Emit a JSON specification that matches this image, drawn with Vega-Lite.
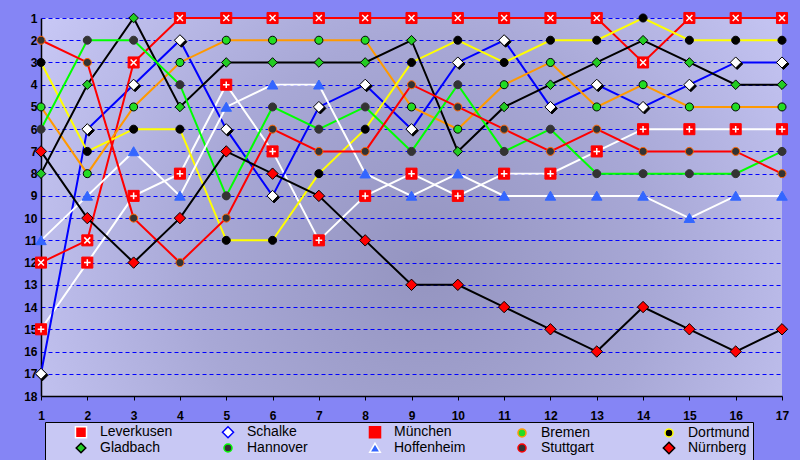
{
  "$schema": "https://vega.github.io/schema/vega-lite/v6.json",
  "width": 741,
  "height": 378,
  "autosize": {"type": "none"},
  "padding": {"left": 41, "top": 18, "right": 18, "bottom": 64},
  "background": "#8585f5",
  "config": {
    "view": {
      "stroke": null,
      "fill": {"gradient": "radial", "x1": 0.52, "y1": 0.58, "r1": 0, "x2": 0.52, "y2": 0.58, "r2": 0.62,
        "stops": [{"offset": 0, "color": "#9494c0"}, {"offset": 0.5, "color": "#a8a8d6"}, {"offset": 1, "color": "#c8c8f6"}]}
    }
  },
  "data": {"values": [
    {"team":"Leverkusen","tag":1,"platz":15},{"team":"Leverkusen","tag":2,"platz":12},{"team":"Leverkusen","tag":3,"platz":9},{"team":"Leverkusen","tag":4,"platz":8},{"team":"Leverkusen","tag":5,"platz":4},{"team":"Leverkusen","tag":6,"platz":7},{"team":"Leverkusen","tag":7,"platz":11},{"team":"Leverkusen","tag":8,"platz":9},{"team":"Leverkusen","tag":9,"platz":8},{"team":"Leverkusen","tag":10,"platz":9},{"team":"Leverkusen","tag":11,"platz":8},{"team":"Leverkusen","tag":12,"platz":8},{"team":"Leverkusen","tag":13,"platz":7},{"team":"Leverkusen","tag":14,"platz":6},{"team":"Leverkusen","tag":15,"platz":6},{"team":"Leverkusen","tag":16,"platz":6},{"team":"Leverkusen","tag":17,"platz":6},
    {"team":"Schalke","tag":1,"platz":17},{"team":"Schalke","tag":2,"platz":6},{"team":"Schalke","tag":3,"platz":4},{"team":"Schalke","tag":4,"platz":2},{"team":"Schalke","tag":5,"platz":6},{"team":"Schalke","tag":6,"platz":9},{"team":"Schalke","tag":7,"platz":5},{"team":"Schalke","tag":8,"platz":4},{"team":"Schalke","tag":9,"platz":6},{"team":"Schalke","tag":10,"platz":3},{"team":"Schalke","tag":11,"platz":2},{"team":"Schalke","tag":12,"platz":5},{"team":"Schalke","tag":13,"platz":4},{"team":"Schalke","tag":14,"platz":5},{"team":"Schalke","tag":15,"platz":4},{"team":"Schalke","tag":16,"platz":3},{"team":"Schalke","tag":17,"platz":3},
    {"team":"München","tag":1,"platz":12},{"team":"München","tag":2,"platz":11},{"team":"München","tag":3,"platz":3},{"team":"München","tag":4,"platz":1},{"team":"München","tag":5,"platz":1},{"team":"München","tag":6,"platz":1},{"team":"München","tag":7,"platz":1},{"team":"München","tag":8,"platz":1},{"team":"München","tag":9,"platz":1},{"team":"München","tag":10,"platz":1},{"team":"München","tag":11,"platz":1},{"team":"München","tag":12,"platz":1},{"team":"München","tag":13,"platz":1},{"team":"München","tag":14,"platz":3},{"team":"München","tag":15,"platz":1},{"team":"München","tag":16,"platz":1},{"team":"München","tag":17,"platz":1},
    {"team":"Bremen","tag":1,"platz":5},{"team":"Bremen","tag":2,"platz":8},{"team":"Bremen","tag":3,"platz":5},{"team":"Bremen","tag":4,"platz":3},{"team":"Bremen","tag":5,"platz":2},{"team":"Bremen","tag":6,"platz":2},{"team":"Bremen","tag":7,"platz":2},{"team":"Bremen","tag":8,"platz":2},{"team":"Bremen","tag":9,"platz":5},{"team":"Bremen","tag":10,"platz":6},{"team":"Bremen","tag":11,"platz":4},{"team":"Bremen","tag":12,"platz":3},{"team":"Bremen","tag":13,"platz":5},{"team":"Bremen","tag":14,"platz":4},{"team":"Bremen","tag":15,"platz":5},{"team":"Bremen","tag":16,"platz":5},{"team":"Bremen","tag":17,"platz":5},
    {"team":"Dortmund","tag":1,"platz":3},{"team":"Dortmund","tag":2,"platz":7},{"team":"Dortmund","tag":3,"platz":6},{"team":"Dortmund","tag":4,"platz":6},{"team":"Dortmund","tag":5,"platz":11},{"team":"Dortmund","tag":6,"platz":11},{"team":"Dortmund","tag":7,"platz":8},{"team":"Dortmund","tag":8,"platz":6},{"team":"Dortmund","tag":9,"platz":3},{"team":"Dortmund","tag":10,"platz":2},{"team":"Dortmund","tag":11,"platz":3},{"team":"Dortmund","tag":12,"platz":2},{"team":"Dortmund","tag":13,"platz":2},{"team":"Dortmund","tag":14,"platz":1},{"team":"Dortmund","tag":15,"platz":2},{"team":"Dortmund","tag":16,"platz":2},{"team":"Dortmund","tag":17,"platz":2},
    {"team":"Gladbach","tag":1,"platz":8},{"team":"Gladbach","tag":2,"platz":4},{"team":"Gladbach","tag":3,"platz":1},{"team":"Gladbach","tag":4,"platz":5},{"team":"Gladbach","tag":5,"platz":3},{"team":"Gladbach","tag":6,"platz":3},{"team":"Gladbach","tag":7,"platz":3},{"team":"Gladbach","tag":8,"platz":3},{"team":"Gladbach","tag":9,"platz":2},{"team":"Gladbach","tag":10,"platz":7},{"team":"Gladbach","tag":11,"platz":5},{"team":"Gladbach","tag":12,"platz":4},{"team":"Gladbach","tag":13,"platz":3},{"team":"Gladbach","tag":14,"platz":2},{"team":"Gladbach","tag":15,"platz":3},{"team":"Gladbach","tag":16,"platz":4},{"team":"Gladbach","tag":17,"platz":4},
    {"team":"Hannover","tag":1,"platz":6},{"team":"Hannover","tag":2,"platz":2},{"team":"Hannover","tag":3,"platz":2},{"team":"Hannover","tag":4,"platz":4},{"team":"Hannover","tag":5,"platz":9},{"team":"Hannover","tag":6,"platz":5},{"team":"Hannover","tag":7,"platz":6},{"team":"Hannover","tag":8,"platz":5},{"team":"Hannover","tag":9,"platz":7},{"team":"Hannover","tag":10,"platz":4},{"team":"Hannover","tag":11,"platz":7},{"team":"Hannover","tag":12,"platz":6},{"team":"Hannover","tag":13,"platz":8},{"team":"Hannover","tag":14,"platz":8},{"team":"Hannover","tag":15,"platz":8},{"team":"Hannover","tag":16,"platz":8},{"team":"Hannover","tag":17,"platz":7},
    {"team":"Hoffenheim","tag":1,"platz":11},{"team":"Hoffenheim","tag":2,"platz":9},{"team":"Hoffenheim","tag":3,"platz":7},{"team":"Hoffenheim","tag":4,"platz":9},{"team":"Hoffenheim","tag":5,"platz":5},{"team":"Hoffenheim","tag":6,"platz":4},{"team":"Hoffenheim","tag":7,"platz":4},{"team":"Hoffenheim","tag":8,"platz":8},{"team":"Hoffenheim","tag":9,"platz":9},{"team":"Hoffenheim","tag":10,"platz":8},{"team":"Hoffenheim","tag":11,"platz":9},{"team":"Hoffenheim","tag":12,"platz":9},{"team":"Hoffenheim","tag":13,"platz":9},{"team":"Hoffenheim","tag":14,"platz":9},{"team":"Hoffenheim","tag":15,"platz":10},{"team":"Hoffenheim","tag":16,"platz":9},{"team":"Hoffenheim","tag":17,"platz":9},
    {"team":"Stuttgart","tag":1,"platz":2},{"team":"Stuttgart","tag":2,"platz":3},{"team":"Stuttgart","tag":3,"platz":10},{"team":"Stuttgart","tag":4,"platz":12},{"team":"Stuttgart","tag":5,"platz":10},{"team":"Stuttgart","tag":6,"platz":6},{"team":"Stuttgart","tag":7,"platz":7},{"team":"Stuttgart","tag":8,"platz":7},{"team":"Stuttgart","tag":9,"platz":4},{"team":"Stuttgart","tag":10,"platz":5},{"team":"Stuttgart","tag":11,"platz":6},{"team":"Stuttgart","tag":12,"platz":7},{"team":"Stuttgart","tag":13,"platz":6},{"team":"Stuttgart","tag":14,"platz":7},{"team":"Stuttgart","tag":15,"platz":7},{"team":"Stuttgart","tag":16,"platz":7},{"team":"Stuttgart","tag":17,"platz":8},
    {"team":"Nürnberg","tag":1,"platz":7},{"team":"Nürnberg","tag":2,"platz":10},{"team":"Nürnberg","tag":3,"platz":12},{"team":"Nürnberg","tag":4,"platz":10},{"team":"Nürnberg","tag":5,"platz":7},{"team":"Nürnberg","tag":6,"platz":8},{"team":"Nürnberg","tag":7,"platz":9},{"team":"Nürnberg","tag":8,"platz":11},{"team":"Nürnberg","tag":9,"platz":13},{"team":"Nürnberg","tag":10,"platz":13},{"team":"Nürnberg","tag":11,"platz":14},{"team":"Nürnberg","tag":12,"platz":15},{"team":"Nürnberg","tag":13,"platz":16},{"team":"Nürnberg","tag":14,"platz":14},{"team":"Nürnberg","tag":15,"platz":15},{"team":"Nürnberg","tag":16,"platz":16},{"team":"Nürnberg","tag":17,"platz":15}
  ]},
  "encoding": {
    "x": {"field": "tag", "type": "quantitative",
      "scale": {"domain": [1, 17], "nice": false, "zero": false},
      "axis": {"title": null, "values": [1,2,3,4,5,6,7,8,9,10,11,12,13,14,15,16,17], "format": "d",
        "labelFont": "Liberation Sans", "labelFontWeight": "bold", "labelFontSize": 12, "labelColor": "#000000",
        "labelFlush": false, "labelOverlap": false, "tickColor": "#000000", "tickSize": 4, "labelPadding": 10,
        "domainColor": "#000000", "domainWidth": 1.5, "grid": false}},
    "y": {"field": "platz", "type": "quantitative",
      "scale": {"domain": [1, 18], "reverse": true, "nice": false, "zero": false},
      "axis": {"title": null, "values": [1,2,3,4,5,6,7,8,9,10,11,12,13,14,15,16,17,18], "format": "d",
        "labelFont": "Liberation Sans", "labelFontWeight": "bold", "labelFontSize": 12, "labelColor": "#000000",
        "labelFlush": false, "labelOverlap": false, "ticks": false, "tickSize": 0, "labelPadding": 4,
        "domainColor": "#000000", "domainWidth": 1.5,
        "grid": true, "gridColor": "#0000ff", "gridDash": [4, 3], "gridWidth": 1, "gridOpacity": 1}}
  },
  "layer": [
    {
      "mark": {"type": "line", "strokeWidth": 2},
      "encoding": {
        "color": {"field": "team", "type": "nominal",
          "scale": {"domain": ["Leverkusen","Schalke","München","Bremen","Dortmund","Gladbach","Hannover","Hoffenheim","Stuttgart","Nürnberg"],
            "range": ["#ffffff","#0000ff","#ff0000","#ff9900","#ffff00","#000000","#00ff00","#ffffff","#ff0000","#000000"]}}
      }
    },
    {
      "transform": [{"filter": "datum.team === 'Schalke'"}],
      "mark": {"type": "point", "shape": "diamond", "filled": true, "fill": "#000000", "stroke": "#000000", "strokeWidth": 1, "size": 121, "xOffset": 1.5, "yOffset": 1.5, "opacity": 1}
    },
    {
      "mark": {"type": "point", "filled": true, "opacity": 1, "strokeWidth": 1, "size": 144},
      "encoding": {
        "shape": {"field": "team", "type": "nominal",
          "scale": {"domain": ["Leverkusen","Schalke","München","Bremen","Dortmund","Gladbach","Hannover","Hoffenheim","Stuttgart","Nürnberg"],
            "range": [
              "M-0.92,-0.92H0.92V0.92H-0.92Z",
              "M0,-0.92L0.92,0L0,0.92L-0.92,0Z",
              "M-0.92,-0.92H0.92V0.92H-0.92Z",
              "M-0.67,0A0.67,0.67,0,1,0,0.67,0A0.67,0.67,0,1,0,-0.67,0Z",
              "M-0.67,0A0.67,0.67,0,1,0,0.67,0A0.67,0.67,0,1,0,-0.67,0Z",
              "M0,-0.8L0.8,0L0,0.8L-0.8,0Z",
              "M-0.67,0A0.67,0.67,0,1,0,0.67,0A0.67,0.67,0,1,0,-0.67,0Z",
              "M0,-0.78L0.88,0.72L-0.88,0.72Z",
              "M-0.67,0A0.67,0.67,0,1,0,0.67,0A0.67,0.67,0,1,0,-0.67,0Z",
              "M0,-0.95L0.95,0L0,0.95L-0.95,0Z"
            ]},
          "legend": {
            "orient": "none", "legendX": 4, "legendY": 404,
            "columns": 5, "direction": "horizontal",
            "title": " ", "titleOrient": "left", "titlePadding": 26, "titleFontSize": 14,
            "symbolSize": 144, "symbolStrokeWidth": 1.5,
            "labelFont": "Liberation Sans", "labelFontSize": 14, "labelColor": "#000000", "labelOffset": 12,
            "columnPadding": 46, "rowPadding": -6, "gridAlign": "all", "padding": 3,
            "fillColor": "#c8c8f4", "strokeColor": "#000000"
          }},
        "fill": {"field": "team", "type": "nominal",
          "scale": {"domain": ["Leverkusen","Schalke","München","Bremen","Dortmund","Gladbach","Hannover","Hoffenheim","Stuttgart","Nürnberg"],
            "range": ["#ff0000","#ffffff","#ff0000","#22dd22","#000000","#22cc22","#333333","#3366ff","#333333","#ff0000"]}},
        "stroke": {"field": "team", "type": "nominal", "legend": null,
          "scale": {"domain": ["München","Bremen","Dortmund","Gladbach","Hannover","Hoffenheim","Stuttgart","Nürnberg","Leverkusen","Schalke"],
            "range": ["#ff0000","#000000","#000000","#000000","#333333","#3366ff","#ff6600","#000000","#ff0000","#000000"]}}
      }
    },
    {
      "transform": [{"filter": "datum.team === 'Leverkusen'"}],
      "mark": {"type": "point", "shape": "M-0.55,0H0.55M0,-0.55V0.55", "filled": false, "stroke": "#ffffff", "strokeWidth": 1.5, "size": 144, "opacity": 1}
    },
    {
      "transform": [{"filter": "datum.team === 'München'"}],
      "mark": {"type": "point", "shape": "M-0.5,-0.5L0.5,0.5M0.5,-0.5L-0.5,0.5", "filled": false, "stroke": "#ffffff", "strokeWidth": 1.5, "size": 144, "opacity": 1}
    }
  ]
}
